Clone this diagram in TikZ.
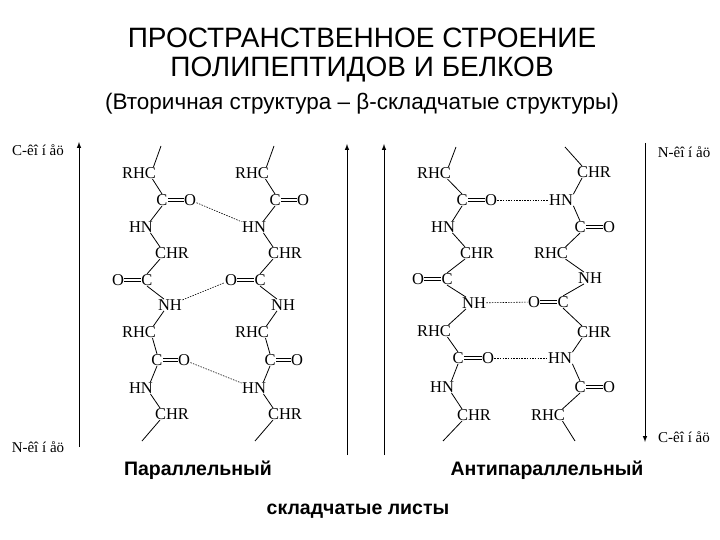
\documentclass[tikz,border=0pt]{standalone}
\usepackage{fontspec}
\setmainfont{Liberation Serif}
\newfontfamily\arial{Liberation Sans}
\begin{document}
\begin{tikzpicture}[x=1pt,y=-1pt,
  atm/.style={font=\fontsize{16.5}{16}\selectfont, inner sep=0.3pt},
  bd/.style={line width=0.8pt},
  hb/.style={dash pattern=on 1.5pt off 1.2pt, line width=0.6pt},
  ax/.style={line width=1pt,-latex},
  lab/.style={font=\fontsize{15}{15}\selectfont}]
\newcommand{\dbond}[2]{\draw[bd] ([yshift=-1.8pt]#1.east) -- ([yshift=-1.8pt]#2.west);
  \draw[bd] ([yshift=1.8pt]#1.east) -- ([yshift=1.8pt]#2.west);}
\useasboundingbox (0,0) rectangle (720,540);
\node[font=\arial\fontsize{28}{28}\selectfont] (t1) at (362,38) {ПРОСТРАНСТВЕННОЕ СТРОЕНИЕ};
\node[font=\arial\fontsize{28}{28}\selectfont] (t2) at (362,70) {ПОЛИПЕПТИДОВ И БЕЛКОВ};
\node[font=\arial\fontsize{22.5}{22}\selectfont] (t3) at (362,104) {(Вторичная структура – β-складчатые структуры)};
\node[font=\arial\bfseries\fontsize{19.5}{19}\selectfont] (p1) at (198,470) {Параллельный};
\node[font=\arial\bfseries\fontsize{19.5}{19}\selectfont] (p2) at (547,470) {Антипараллельный};
\node[font=\arial\bfseries\fontsize{19.5}{19}\selectfont] (p3) at (358,511) {складчатые листы};
% axes
\coordinate (a1b) at (79,447); \coordinate (a1t) at (79,142);
\draw[ax] (a1b) -- (a1t);
\coordinate (a2b) at (347,455); \coordinate (a2t) at (347,144);
\draw[ax] (a2b) -- (a2t);
\coordinate (a3b) at (384,455); \coordinate (a3t) at (384,144);
\draw[ax] (a3b) -- (a3t);
\coordinate (a4t) at (645,143); \coordinate (a4b) at (645,442);
\draw[ax] (a4t) -- (a4b);
\node[lab] (l1) at (38,150) {C-êî í åö};
\node[lab] (l2) at (38,447) {N-êî í åö};
\node[lab] (l3) at (684,152) {N-êî í åö};
\node[lab] (l4) at (684,437) {C-êî í åö};
% parallel chains
\foreach \p/\dx in {A/0,B/113}{
 \begin{scope}[xshift=\dx]
 \coordinate (\p s1) at (161,146);
 \node[atm] (\p r1) at (139,173) {RHC};
 \node[atm] (\p c1) at (162,200) {C};
 \node[atm] (\p o1) at (190,200) {O};
 \node[atm] (\p n1) at (141,227) {HN};
 \node[atm] (\p h1) at (172,253) {CHR};
 \node[atm] (\p o2) at (118,280) {O};
 \node[atm] (\p c2) at (147,280) {C};
 \node[atm] (\p n2) at (170,305) {NH};
 \node[atm] (\p r2) at (139,332) {RHC};
 \node[atm] (\p c3) at (157,360) {C};
 \node[atm] (\p o3) at (184,360) {O};
 \node[atm] (\p n3) at (141,388) {HN};
 \node[atm] (\p h3) at (172,414) {CHR};
 \coordinate (\p s2) at (142,441);
 \draw[bd] (\p s1) -- ([xshift=-3]\p r1.north east);
 \draw[bd] ([xshift=-4]\p r1.south east) -- (\p c1.north);
 \dbond{\p c1}{\p o1}
 \draw[bd] (\p c1.south) -- ([xshift=-3]\p n1.north east);
 \draw[bd] ([xshift=-3]\p n1.south east) -- ([xshift=-12]\p h1.north);
 \draw[bd] ([xshift=-12]\p h1.south) -- (\p c2.north);
 \dbond{\p o2}{\p c2}
 \draw[bd] (\p c2.south) -- ([xshift=-6]\p n2.north);
 \draw[bd] ([xshift=-6]\p n2.south) -- ([xshift=-3]\p r2.north east);
 \draw[bd] ([xshift=-4]\p r2.south east) -- (\p c3.north);
 \dbond{\p c3}{\p o3}
 \draw[bd] (\p c3.south) -- ([xshift=-3]\p n3.north east);
 \draw[bd] ([xshift=-3]\p n3.south east) -- ([xshift=-12]\p h3.north);
 \draw[bd] ([xshift=-12]\p h3.south) -- (\p s2);
 \end{scope}
}
\draw[hb] (Ao1) -- (Bn1);
\draw[hb] (An2) -- (Bo2);
\draw[hb] (Ao3) -- (Bn3);
% antiparallel chain C
\coordinate (Cs1) at (456,147);
\node[atm] (Cr1) at (434,173) {RHC};
\node[atm] (Cc1) at (462,200) {C};
\node[atm] (Co1) at (491,200) {O};
\node[atm] (Cn1) at (443,227) {HN};
\node[atm] (Ch1) at (477,253) {CHR};
\node[atm] (Co2) at (418,279) {O};
\node[atm] (Cc2) at (447,279) {C};
\node[atm] (Cn2) at (474,303) {NH};
\node[atm] (Cr2) at (434,331) {RHC};
\node[atm] (Cc3) at (458,358) {C};
\node[atm] (Co3) at (488,358) {O};
\node[atm] (Cn3) at (442,387) {HN};
\node[atm] (Ch3) at (474,415) {CHR};
\coordinate (Cs2) at (443,441);
\draw[bd] (Cs1) -- ([xshift=-3]Cr1.north east);
\draw[bd] ([xshift=-4]Cr1.south east) -- (Cc1.north);
\dbond{Cc1}{Co1}
\draw[bd] (Cc1.south) -- ([xshift=-3]Cn1.north east);
\draw[bd] ([xshift=-3]Cn1.south east) -- ([xshift=-12]Ch1.north);
\draw[bd] ([xshift=-12]Ch1.south) -- (Cc2.north);
\dbond{Co2}{Cc2}
\draw[bd] (Cc2.south) -- ([xshift=-8]Cn2.north);
\draw[bd] ([xshift=-8]Cn2.south) -- ([xshift=-3]Cr2.north east);
\draw[bd] ([xshift=-4]Cr2.south east) -- (Cc3.north);
\dbond{Cc3}{Co3}
\draw[bd] (Cc3.south) -- ([xshift=-3]Cn3.north east);
\draw[bd] ([xshift=-3]Cn3.south east) -- ([xshift=-12]Ch3.north);
\draw[bd] ([xshift=-12]Ch3.south) -- (Cs2);
% chain D
\coordinate (Ds1) at (565,147);
\node[atm] (Dh1) at (594,172) {CHR};
\node[atm] (Dn1) at (561,200) {HN};
\node[atm] (Dc1) at (580,227) {C};
\node[atm] (Do1) at (609,227) {O};
\node[atm] (Dr1) at (551,253) {RHC};
\node[atm] (Dn2) at (590,278) {NH};
\node[atm] (Do2) at (534,302) {O};
\node[atm] (Dc2) at (563,302) {C};
\node[atm] (Dh2) at (594,332) {CHR};
\node[atm] (Dn3) at (560,358) {HN};
\node[atm] (Dc3) at (580,387) {C};
\node[atm] (Do3) at (609,387) {O};
\node[atm] (Dr3) at (548,415) {RHC};
\coordinate (Ds2) at (575,441);
\draw[bd] (Ds1) -- ([xshift=-12]Dh1.north);
\draw[bd] ([xshift=-12]Dh1.south) -- (Dn1.north east);
\draw[bd] (Dn1.south east) -- (Dc1.north);
\dbond{Dc1}{Do1}
\draw[bd] (Dc1.south) -- ([xshift=-3]Dr1.north east);
\draw[bd] ([xshift=-3]Dr1.south east) -- ([xshift=-6]Dn2.north);
\draw[bd] ([xshift=-6]Dn2.south) -- (Dc2.north);
\dbond{Do2}{Dc2}
\draw[bd] (Dc2.south) -- ([xshift=-12]Dh2.north);
\draw[bd] ([xshift=-12]Dh2.south) -- (Dn3.north east);
\draw[bd] (Dn3.south east) -- (Dc3.north);
\dbond{Dc3}{Do3}
\draw[bd] (Dc3.south) -- ([xshift=-3]Dr3.north east);
\draw[bd] ([xshift=-3]Dr3.south east) -- (Ds2);
\draw[hb] (Co1) -- (Dn1);
\draw[hb] (Cn2) -- (Do2);
\draw[hb] (Co3) -- (Dn3);
\end{tikzpicture}
\end{document}
